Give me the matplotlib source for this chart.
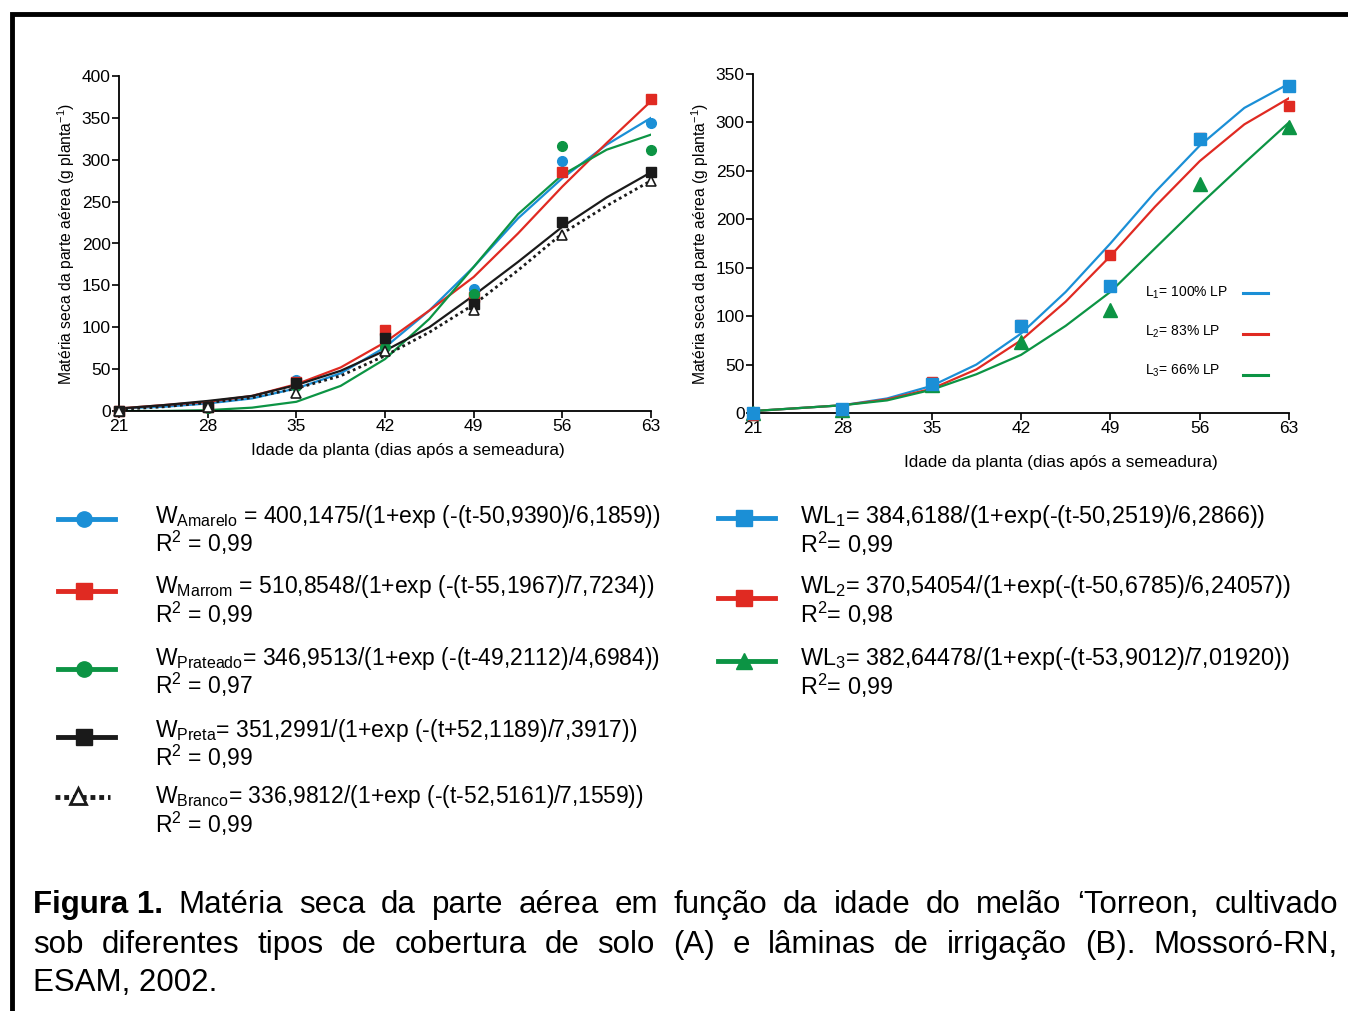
import matplotlib
matplotlib.use("Agg")
import matplotlib.pyplot as plt

plt.rcParams["font.family"] = ["Liberation Sans", "DejaVu Sans"]
plt.rcParams["mathtext.fontset"] = "custom"
plt.rcParams["mathtext.rm"] = "Liberation Sans"
plt.rcParams["mathtext.it"] = "Liberation Sans:italic"

dias = [21, 28, 35, 42, 49, 56, 63]
dias_curva = [21, 24.5, 28, 31.5, 35, 38.5, 42, 45.5, 49, 52.5, 56, 59.5, 63]

# (A) tipos de cobertura de solo - observados
amarelo_obs = [0, 5, 37, 90, 146, 299, 344]
marrom_obs = [0, 5, 35, 97, 136, 285, 373]
prateado_obs = [0, 3, 30, 77, 140, 317, 312]
preta_obs = [0, 5, 34, 87, 128, 226, 285]
branco_obs = [0, 5, 22, 72, 121, 210, 275]

# (A) curvas
amarelo_fit = [3, 5, 9, 15, 27, 45, 76, 120, 172, 230, 278, 318, 350]
marrom_fit = [3, 7, 11, 18, 32, 52, 82, 120, 160, 212, 268, 320, 370]
prateado_fit = [0, 0, 1, 4, 11, 30, 62, 110, 172, 235, 282, 312, 330]
preta_fit = [3, 7, 12, 18, 31, 48, 72, 100, 138, 178, 220, 255, 285]
branco_fit = [2, 5, 10, 16, 27, 42, 66, 94, 127, 168, 212, 245, 275]

# (B) laminas de irrigacao
l1_obs = [0, 4, 30, 90, 131, 283, 338]
l2_obs = [-2, 3, 32, 91, 163, 284, 317]
l3_obs = [0, 3, 29, 73, 106, 236, 295]
l1_fit = [2, 5, 8, 15, 28, 50, 82, 125, 175, 228, 276, 315, 340]
l2_fit = [2, 5, 8, 14, 25, 45, 75, 115, 162, 213, 260, 298, 325]
l3_fit = [2, 5, 8, 13, 24, 40, 60, 90, 125, 170, 215, 258, 300]

AZUL = "#1b8fd6"
VERM = "#e02a22"
VERDE = "#0c9444"
PRETO = "#1a1a1a"

eqs_A = [
    r"W$_{\mathrm{Amarelo}}$ = 400,1475/(1+exp (-(t-50,9390)/6,1859))",
    r"W$_{\mathrm{Marrom}}$ = 510,8548/(1+exp (-(t-55,1967)/7,7234))",
    r"W$_{\mathrm{Prateado}}$= 346,9513/(1+exp (-(t-49,2112)/4,6984))",
    r"W$_{\mathrm{Preta}}$= 351,2991/(1+exp (-(t+52,1189)/7,3917))",
    r"W$_{\mathrm{Branco}}$= 336,9812/(1+exp (-(t-52,5161)/7,1559))",
]
r2_A = ["0,99", "0,99", "0,97", "0,99", "0,99"]
eqs_B = [
    r"WL$_1$= 384,6188/(1+exp(-(t-50,2519)/6,2866))",
    r"WL$_2$= 370,54054/(1+exp(-(t-50,6785)/6,24057))",
    r"WL$_3$= 382,64478/(1+exp(-(t-53,9012)/7,01920))",
]
r2_B = ["0,99", "0,98", "0,99"]
leg_B = [r"L$_1$= 100% LP", r"L$_2$= 83% LP", r"L$_3$= 66% LP"]

ylab = r"Matéria seca da parte aérea (g planta$^{-1}$)"
xlab = "Idade da planta (dias após a semeadura)"

fig = plt.figure(figsize=(13.48, 10.11), dpi=100)
W, H = 1348, 1011


def eixo(ax, ymax, ystep):
    ax.set_xlim(21, 63)
    ax.set_ylim(0, ymax)
    ax.set_xticks(dias)
    ax.set_yticks(range(0, ymax + 1, ystep))
    for s in ["top", "right"]:
        ax.spines[s].set_visible(False)
    for s in ["left", "bottom"]:
        ax.spines[s].set_linewidth(1.3)
    ax.tick_params(direction="out", length=5, width=1.2, labelsize=12.5, pad=1)


# ---- grafico A
axA = fig.add_axes([119 / W, 1 - 411 / H, 532 / W, 335 / H])
eixo(axA, 400, 50)
series_A = [
    (amarelo_obs, amarelo_fit, AZUL, "o", "-"),
    (marrom_obs, marrom_fit, VERM, "s", "-"),
    (prateado_obs, prateado_fit, VERDE, "o", "-"),
    (preta_obs, preta_fit, PRETO, "s", "-"),
]
for obs, fit, cor, mk, ls in series_A:
    axA.plot(dias_curva, fit, color=cor, lw=1.6, ls=ls)
    axA.plot(dias, obs, mk, color=cor, ms=7, clip_on=False, zorder=5)
axA.plot(dias_curva, branco_fit, color=PRETO, lw=2, ls=(0, (1, 1.2)))
axA.plot(dias, branco_obs, "^", mfc="white", mec=PRETO, mew=1.2, ms=6.5,
         clip_on=False, zorder=6)
axA.set_ylabel(ylab, fontsize=11.3, labelpad=3)
axA.set_xlabel(xlab, fontsize=12.3)
axA.xaxis.set_label_coords(0.543, -0.096)

# ---- grafico B
axB = fig.add_axes([753 / W, 1 - 413 / H, 536 / W, 339 / H])
eixo(axB, 350, 50)
series_B = [
    (l1_obs, l1_fit, AZUL, "s", 8),
    (l2_obs, l2_fit, VERM, "s", 7.5),
    (l3_obs, l3_fit, VERDE, "^", 10),
]
for obs, fit, cor, mk, ms in series_B:
    axB.plot(dias_curva, fit, color=cor, lw=1.6)
for obs, fit, cor, mk, ms in reversed(series_B):
    axB.plot(dias, obs, mk, color=cor, ms=ms, clip_on=False, zorder=5)
axB.set_ylabel(ylab, fontsize=11.3, labelpad=3)
axB.set_xlabel(xlab, fontsize=12.3)
axB.xaxis.set_label_coords(0.575, -0.124)

# ---- camada em pixels para legenda, moldura e legenda
ov = fig.add_axes([0, 0, 1, 1], facecolor="none")
ov.set_xlim(0, W)
ov.set_ylim(H, 0)
ov.axis("off")

# moldura
ov.plot([12, 12, W + 5], [H + 5, 14, 14], color="black", lw=3.5,
        solid_joinstyle="miter", clip_on=False)

# legenda interna do grafico B
for i, (txt, s) in enumerate(zip(leg_B, series_B)):
    y = 293 + 39 * i
    ov.text(1145, y, txt, fontsize=10, va="center", ha="left")
    ov.plot([1243, 1268], [y + 2 * i, y + 2 * i], color=s[2], lw=2.2)

# equacoes A
linhas_A = [519, 591, 669, 737, 797]
texto_A = [516, 587, 658, 730, 797]
for i, (obs, fit, cor, mk, ls) in enumerate(series_A):
    y = linhas_A[i]
    ov.plot([58, 115], [y, y], color=cor, lw=3.5)
    ov.plot([84], [y], mk, color=cor, ms=11)
yb = linhas_A[4]
ov.plot([55, 110], [yb, yb], color=PRETO, lw=3.5, ls=(0, (1, 0.8)))
ov.plot([78], [yb - 1], "^", mfc="white", mec=PRETO, mew=2, ms=11)
for i in range(5):
    ov.text(155, texto_A[i], eqs_A[i], fontsize=16.5, va="center", ha="left")
    ov.text(155, texto_A[i] + 27, r"R$^2$ = " + r2_A[i], fontsize=16.5,
            va="center", ha="left")

# equacoes B
linhas_B = [518, 598, 661]
texto_B = [516, 586, 658]
for i, (obs, fit, cor, mk, ms) in enumerate(series_B):
    y = linhas_B[i]
    ov.plot([718, 775], [y, y], color=cor, lw=3.5)
    ov.plot([744], [y], mk, color=cor, ms=12)
    ov.text(800, texto_B[i], eqs_B[i], fontsize=16.8, va="center", ha="left")
    ov.text(800, texto_B[i] + 28, r"R$^2$= " + r2_B[i], fontsize=16.8,
            va="center", ha="left")

# legenda da figura (texto justificado)
legenda = [
    [("Figura 1.", "bold"), ("Matéria", "normal"), ("seca", "normal"),
     ("da", "normal"), ("parte", "normal"), ("aérea", "normal"),
     ("em", "normal"), ("função", "normal"), ("da", "normal"),
     ("idade", "normal"), ("do", "normal"), ("melão", "normal"),
     ("‘Torreon,", "normal"), ("cultivado", "normal")],
    [(w, "normal") for w in
     "sob diferentes tipos de cobertura de solo (A) e lâminas de irrigação (B). Mossoró-RN,".split()],
    [("ESAM, 2002.", "normal")],
]
r = fig.canvas.get_renderer()
bases = [913, 953, 991]
for k, pal in enumerate(legenda):
    arts = [ov.text(0, bases[k], p, fontsize=22.5, fontweight=wt,
                    va="baseline", ha="left") for p, wt in pal]
    larg = [a.get_window_extent(r).width for a in arts]
    x0, x1 = 33, 1338
    if len(arts) > 1:
        gap = (x1 - x0 - sum(larg)) / (len(arts) - 1)
    else:
        gap = 0
    x = x0
    for a, w in zip(arts, larg):
        a.set_x(x)
        x += w + gap

fig.savefig("out.png", dpi=100)
